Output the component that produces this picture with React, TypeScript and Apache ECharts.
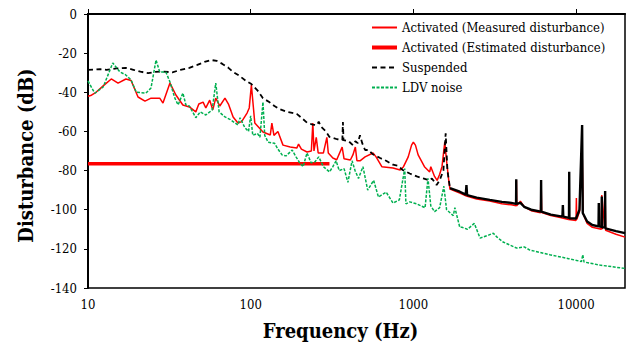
import React, { useEffect, useRef } from 'react';
import * as echarts from 'echarts';

const FONT = 'DejaVu Serif Condensed, DejaVu Serif';

const SERIES_NAMES = [
  'Activated (Measured disturbance)',
  'Activated (Estimated disturbance)',
  'Suspended',
  'LDV noise',
];

// [frequency Hz, disturbance dB]
const MEASURED: [number, number][] = [
  [10, -42], [10.5, -41.5], [11.2, -40], [12.5, -36.5], [13.9, -33.2], [15.3, -35.3], [17.1, -33.2],
  [18.4, -34], [20.3, -42.4], [22.4, -44.5], [24.4, -43], [27.6, -43], [28.9, -45.5], [31.9, -35.3],
  [34.7, -41.4], [38.3, -46.5], [42, -47.5], [46, -50], [48, -46], [51, -45], [53, -48], [56, -44],
  [58.5, -49], [61, -43], [64.6, -47], [69.5, -43], [73, -46], [78, -52.6], [83.5, -55.7], [88, -55],
  [95, -50.6], [98, -48], [101, -36.3], [106, -55.7], [119, -60.3], [132, -61.8], [135, -55.7],
  [139, -62], [147, -60], [158, -67], [175, -68], [192, -68.5], [197, -66.5], [205, -69], [222, -70.5],
  [236, -70], [241, -55.7], [245, -70], [253, -63], [260, -71], [280, -71], [294, -63], [300, -71],
  [320, -73.6], [338, -74.5], [365, -68], [375, -74], [410, -74.6], [425, -72], [440, -68], [450, -75],
  [470, -75], [505, -73], [565, -71], [590, -73], [640, -78], [750, -78.7], [830, -79.7], [870, -78],
  [930, -73], [975, -67], [1000, -65.5], [1030, -67], [1070, -72], [1170, -78], [1260, -80.7],
  [1280, -78], [1350, -83], [1400, -85], [1450, -82], [1500, -78], [1560, -65.4], [1600, -75],
  [1650, -85], [1680, -89.5], [1930, -91.5], [2120, -93], [2450, -94.5], [2950, -95.5], [3500, -97],
  [4000, -97.5], [4290, -98], [4300, -85], [4320, -98], [4550, -95.6], [4800, -98.5], [5300, -100.5],
  [6050, -101.5], [6100, -85], [6150, -101.5], [7000, -103], [8000, -104], [9000, -105], [10000, -105.5],
  [10050, -94], [10100, -105], [10500, -101], [10900, -67.8], [11050, -102], [11700, -107],
  [12600, -109], [14300, -110], [14400, -92.5], [14500, -110], [15100, -92], [15200, -110.5],
  [17600, -112.5], [20000, -114],
];

const ESTIMATED: [number, number][] = [
  [10, -76.5], [305, -76.5],
];

const SUSPENDED_LOW: [number, number][] = [
  [10, -28.6], [11.9, -28.2], [13, -28.5], [15, -27.8], [17, -27.5], [19, -28.5], [21, -29.5],
  [23.4, -30.2], [26, -29.6], [29, -29.4], [33, -29.8], [37, -28.6], [42, -27.5], [47, -26],
  [52, -24.5], [57, -23.5], [62, -24], [67, -25.5], [73, -27.5], [78, -29.6], [85, -31.5], [93, -34],
  [101, -35.8], [110, -39], [119, -43], [130, -45], [140, -47], [150, -48.5], [167, -50], [180, -50.5],
  [192, -51], [205, -53], [222, -55.5], [240, -56.5], [256, -56.7], [262, -55], [270, -57.5],
  [290, -60], [305, -62.8], [340, -64], [366, -64.4], [369, -55.2], [372, -64.4], [400, -65],
  [425, -67], [440, -65], [455, -66], [470, -62], [485, -66], [505, -69.5], [530, -69.5],
  [560, -71.5], [590, -72.5], [625, -73.6], [680, -75], [750, -77], [800, -77.5], [860, -79.7],
  [950, -81.5], [1050, -83], [1150, -84], [1260, -85], [1300, -84], [1390, -87.4], [1450, -85],
  [1530, -80], [1580, -61], [1620, -80], [1680, -89],
];

const SUSPENDED_HIGH: [number, number][] = [
  [1680, -89], [1930, -90.8], [2100, -92.3], [2120, -87.4], [2140, -92.5], [2450, -93.8],
  [2950, -95], [3500, -96], [4000, -96.5], [4280, -97], [4290, -84.5], [4300, -97], [4550, -96.5],
  [4800, -98.5], [5300, -100], [6080, -101], [6100, -84.8], [6120, -101], [7000, -102.5],
  [8250, -103.5], [8300, -97.6], [8350, -103.5], [9050, -104.2], [9080, -80.6], [9110, -104.4],
  [10000, -104.5], [10500, -100], [10900, -56.7], [11000, -101.7], [11700, -106], [12600, -107.8],
  [13750, -108.5], [13800, -96.6], [13850, -108.5], [14350, -108.8], [14400, -93.3], [14450, -109],
  [15050, -109], [15100, -90.4], [15150, -109.5], [17600, -110.9], [20000, -112],
];

const LDV_NOISE: [number, number][] = [
  [10, -34.2], [11, -40.5], [12.4, -37.3], [14.2, -25], [15.7, -29.6], [17, -31], [18.4, -33.7],
  [19.8, -40], [22.7, -40.4], [24.4, -37.8], [26.2, -23.5], [27.6, -29.6], [30.1, -29.6],
  [31.9, -34.7], [34.2, -43], [35.8, -46.5], [38.3, -40.4], [40, -46.5], [42, -47], [46, -53],
  [49, -50], [53, -51.6], [58, -49], [61, -35.3], [64, -50], [69.5, -52.6], [75, -54], [83.5, -56.7],
  [86, -53], [92, -58], [97, -60], [100, -52], [103, -62], [110, -61], [114, -63], [119, -45],
  [122, -62], [128, -65.5], [140, -66], [147, -69], [156, -72], [165, -72.5], [180, -69.5],
  [190, -73], [200, -76], [210, -78], [222, -71], [235, -76], [248, -75.6], [262, -73], [280, -78],
  [305, -80.7], [320, -78], [335, -75], [350, -80], [375, -79], [396, -86], [420, -75], [438, -80],
  [460, -84], [490, -78], [524, -90], [570, -85], [610, -93.5], [680, -91], [750, -96.6], [820, -95],
  [885, -79], [900, -97], [950, -96], [1050, -97], [1180, -99], [1230, -84], [1280, -98],
  [1350, -101], [1450, -99], [1540, -88], [1600, -100], [1760, -103], [1800, -99], [1930, -109],
  [1990, -109], [2150, -110], [2370, -107], [2570, -114.5], [2900, -113], [3100, -112], [3270, -114],
  [3560, -116.5], [4320, -119.6], [4800, -119], [5200, -120.6], [6900, -123], [9000, -125],
  [10800, -126.5], [11000, -123], [11200, -126.7], [14000, -128.3], [20000, -130],
];

export default function App() {
  const ref = useRef<HTMLDivElement>(null);

  useEffect(() => {
    document.body.style.margin = '0';
    const chart = echarts.init(ref.current!, null, { renderer: 'svg', width: 628, height: 347 });
    chart.setOption({
      animation: false,
      backgroundColor: '#ffffff',
      grid: {
        left: 88, right: 3, top: 14, bottom: 59,
        show: true, borderColor: '#000', borderWidth: 1.5, backgroundColor: 'transparent',
      },
      legend: {
        data: [
          { name: SERIES_NAMES[0] },
          { name: SERIES_NAMES[1], lineStyle: { width: 4 } },
          { name: SERIES_NAMES[2] },
          { name: SERIES_NAMES[3] },
        ],
        orient: 'vertical',
        left: 370,
        top: 21,
        padding: 0,
        itemWidth: 25,
        itemHeight: 14,
        itemGap: 7,
        selectedMode: false,
        itemStyle: { opacity: 0 },
        textStyle: { fontFamily: FONT, fontSize: 13, color: '#000' },
      },
      xAxis: {
        type: 'log',
        logBase: 10,
        min: 10,
        max: 20000,
        name: 'Frequency (Hz)',
        nameLocation: 'middle',
        nameGap: 33,
        nameTextStyle: {
          fontFamily: FONT, fontSize: 20, fontWeight: 'bold', color: '#000',
          padding: [0, 32, 0, 0],
        },
        axisLine: { lineStyle: { color: '#000', width: 2 } },
        axisTick: { inside: true, length: 5, lineStyle: { color: '#000', width: 1 } },
        minorTick: { show: false },
        splitLine: { show: false },
        axisLabel: {
          fontFamily: FONT, fontSize: 13, color: '#000', margin: 10,
          showMaxLabel: false,
          formatter: (v: number) => String(Math.round(v)),
        },
      },
      yAxis: {
        type: 'value',
        min: -140,
        max: 0,
        interval: 20,
        name: 'Disturbance (dB)',
        nameLocation: 'middle',
        nameGap: 52,
        nameTextStyle: {
          fontFamily: FONT, fontSize: 20, fontWeight: 'bold', color: '#000',
          padding: [0, 9, 0, 0],
        },
        axisLine: { lineStyle: { color: '#000', width: 2 } },
        axisTick: { inside: false, length: 4, lineStyle: { color: '#000', width: 1 } },
        splitLine: { show: false },
        axisLabel: { fontFamily: FONT, fontSize: 13, color: '#000', margin: 11 },
      },
      series: [
        {
          name: SERIES_NAMES[0], type: 'line', data: MEASURED, symbol: 'none',
          itemStyle: { color: '#FF0000' },
          lineStyle: { color: '#FF0000', width: 1.5 },
        },
        {
          name: SERIES_NAMES[1], type: 'line', data: ESTIMATED, symbol: 'none',
          itemStyle: { color: '#FF0000' },
          lineStyle: { color: '#FF0000', width: 3.5 },
        },
        {
          name: SERIES_NAMES[2], type: 'line', data: SUSPENDED_LOW, symbol: 'none',
          itemStyle: { color: '#000' },
          lineStyle: { color: '#000', width: 1.8, type: [5, 3.5] },
        },
        {
          name: SERIES_NAMES[2], type: 'line', data: SUSPENDED_HIGH, symbol: 'none',
          itemStyle: { color: '#000' },
          lineStyle: { color: '#000', width: 2.4 },
        },
        {
          name: SERIES_NAMES[3], type: 'line', data: LDV_NOISE, symbol: 'none',
          itemStyle: { color: '#00B050' },
          lineStyle: { color: '#00B050', width: 1.5, type: [3, 1.5] },
        },
      ],
    });
    return () => chart.dispose();
  }, []);

  return <div ref={ref} style={{ width: 628, height: 347 }} />;
}
